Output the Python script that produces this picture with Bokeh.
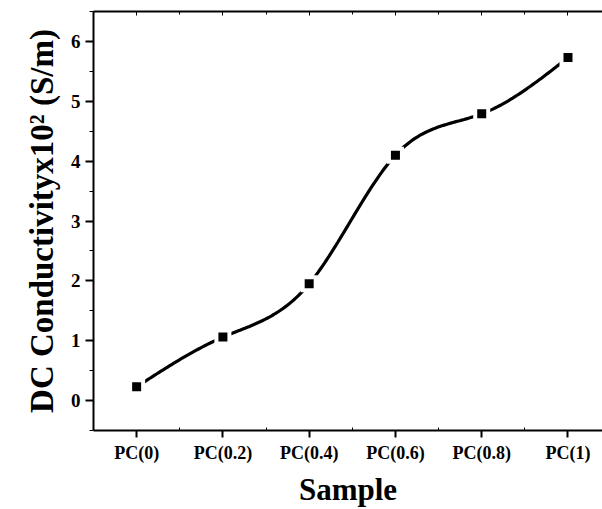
import numpy as np
from bokeh.plotting import figure
from bokeh.models import LinearAxis, FixedTicker, ColumnDataSource
from bokeh.embed import file_html
from bokeh.resources import INLINE

samples = ["PC(0)", "PC(0.2)", "PC(0.4)", "PC(0.6)", "PC(0.8)", "PC(1)"]
conductivity = [0.23, 1.06, 1.95, 4.10, 4.79, 5.73]

xs = np.arange(len(samples), dtype=float)
ys = np.array(conductivity, dtype=float)

# natural cubic spline through the data points (drawing only)
n = len(xs)
h = np.diff(xs)
A = np.zeros((n, n)); b = np.zeros(n)
A[0, 0] = 1; A[-1, -1] = 1
for i in range(1, n - 1):
    A[i, i - 1] = h[i - 1]; A[i, i] = 2 * (h[i - 1] + h[i]); A[i, i + 1] = h[i]
    b[i] = 3 * ((ys[i + 1] - ys[i]) / h[i] - (ys[i] - ys[i - 1]) / h[i - 1])
c = np.linalg.solve(A, b)
cx, cy = [], []
for i in range(n - 1):
    bi = (ys[i + 1] - ys[i]) / h[i] - h[i] * (2 * c[i] + c[i + 1]) / 3
    di = (c[i + 1] - c[i]) / (3 * h[i])
    t = np.linspace(0, h[i], 40)
    cx.extend(xs[i] + t)
    cy.extend(ys[i] + bi * t + c[i] * t ** 2 + di * t ** 3)

FONT = "Liberation Serif"

p = figure(width=602, height=509, x_range=(-0.5, 5.4), y_range=(-0.5, 6.5),
           toolbar_location=None, output_backend="svg",
           min_border_left=93, min_border_top=11, min_border_bottom=78, min_border_right=0,
           x_axis_location=None, y_axis_location=None)
p.grid.visible = False
p.outline_line_color = None

p.line(cx, cy, line_color="black", line_width=3.2)
src = ColumnDataSource(dict(x=xs, y=ys))
p.scatter("x", "y", source=src, marker="square", size=17, fill_color="white", line_color=None)
p.scatter("x", "y", source=src, marker="square", size=9, fill_color="black", line_color=None)

# bottom axis
xb = LinearAxis(ticker=FixedTicker(ticks=list(range(6)), minor_ticks=[0.5, 1.5, 2.5, 3.5, 4.5]))
xb.major_label_overrides = {i: s for i, s in enumerate(samples)}
xb.axis_label = "Sample"
xb.axis_label_text_font = FONT
xb.axis_label_text_font_style = "bold"
xb.axis_label_text_font_size = "31px"
xb.axis_label_text_color = "black"
xb.axis_label_standoff = 6
xb.major_label_text_font = FONT
xb.major_label_text_font_style = "bold"
xb.major_label_text_font_size = "18px"
xb.major_label_text_color = "black"
xb.major_label_standoff = 5
xb.axis_line_width = 2
xb.major_tick_line_width = 2
xb.major_tick_out = 7
xb.major_tick_in = 0
xb.minor_tick_out = 0
xb.minor_tick_in = 3
p.add_layout(xb, "below")

# left axis
yl = LinearAxis(ticker=FixedTicker(ticks=list(range(7)), minor_ticks=[-0.5 + k for k in range(8)]))
yl.axis_label = "DC Conductivityx10² (S/m)"
yl.axis_label_text_font = FONT
yl.axis_label_text_font_style = "bold"
yl.axis_label_text_font_size = "33px"
yl.axis_label_text_color = "black"
yl.axis_label_standoff = 8
yl.major_label_text_font = FONT
yl.major_label_text_font_style = "bold"
yl.major_label_text_font_size = "19px"
yl.major_label_text_color = "black"
yl.major_label_standoff = 5
yl.axis_line_width = 2
yl.major_tick_line_width = 2
yl.major_tick_out = 8
yl.major_tick_in = 0
yl.minor_tick_out = 4
yl.minor_tick_in = 0
p.add_layout(yl, "left")

# top axis (frame line only, no labels)
xt = LinearAxis(ticker=FixedTicker(ticks=list(range(6)), minor_ticks=[0.5, 1.5, 2.5, 3.5, 4.5]))
xt.major_label_text_color = None
xt.major_label_text_font_size = "1px"
xt.major_label_standoff = 0
xt.axis_line_width = 2
xt.major_tick_out = 0
xt.major_tick_in = 4
xt.minor_tick_out = 0
xt.minor_tick_in = 3
p.add_layout(xt, "above")

open("out.html", "w").write(file_html(p, INLINE))
